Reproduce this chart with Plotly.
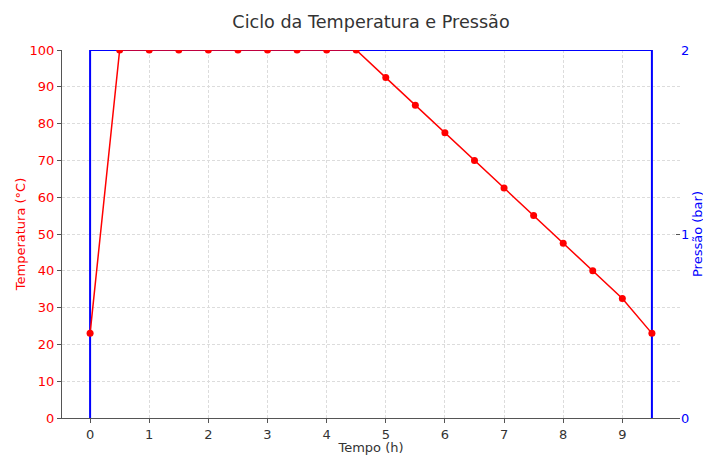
import plotly.graph_objects as go

tempo = [0, 0.5, 1, 1.5, 2, 2.5, 3, 3.5, 4, 4.5, 5, 5.5, 6, 6.5, 7, 7.5, 8, 8.5, 9, 9.5]
temperatura = [23, 100, 100, 100, 100, 100, 100, 100, 100, 100, 92.5, 85, 77.5, 70, 62.5, 55, 47.5, 40, 32.5, 23]
pressao_tempo = [0, 0, 9.5, 9.5]
pressao = [0, 2, 2, 0]
x_ticks = list(range(0, 10))

font = "DejaVu Sans"
W, H = 703, 455
L, R, T, B = 62, 680, 50, 418
fig = go.Figure()
# pressure on the base (right) axis, temperature overlaid on top (left axis)
fig.add_trace(go.Scatter(x=pressao_tempo, y=pressao, mode="lines", yaxis="y",
                         line=dict(color="blue", width=2), showlegend=False))
fig.add_trace(go.Scatter(x=tempo, y=temperatura, mode="lines+markers", yaxis="y2",
                         line=dict(color="red", width=1.5),
                         marker=dict(color="red", size=7), showlegend=False))

grid = dict(showgrid=True, gridcolor="#dcdcdc", griddash="3px,2px", gridwidth=0.8)
fig.update_layout(
    width=W, height=H,
    margin=dict(l=L, r=W - R, t=T, b=H - B, autoexpand=False),
    paper_bgcolor="white", plot_bgcolor="white",
    font=dict(family=font, size=13, color="#333"),
    title=dict(text="Ciclo da Temperatura e Pressão", x=(L + R) / 2 / W, xanchor="center",
               y=1 - 22 / H, yanchor="middle", font=dict(size=17.6, color="#333")),
    xaxis=dict(range=[-0.475, 9.975], tickvals=x_ticks, **grid, showline=True,
               linecolor="#555", linewidth=1.2, automargin=False,
               ticks="outside", ticklen=4, tickcolor="#555", zeroline=False,
               title=dict(text="Tempo (h)", standoff=6, font=dict(size=13, color="#333")),
               tickfont=dict(size=13, color="#333")),
    yaxis2=dict(range=[0, 100], dtick=10, **grid, showline=True, automargin=False,
                overlaying="y", side="left",
                linecolor="#555", linewidth=1.2,
                ticks="outside", ticklen=4, tickcolor="#555", zeroline=False,
                tickfont=dict(size=13, color="red"),
                title=dict(text="Temperatura (°C)", standoff=0, font=dict(size=13, color="red"))),
    yaxis=dict(range=[0, 2], tickvals=[0, 1, 2], side="right",
               showgrid=False, zeroline=False, showline=False, automargin=False,
               ticks="inside", ticklen=4, tickcolor="#555",
               tickfont=dict(size=13, color="blue")),
    annotations=[dict(text="Pressão (bar)", xref="paper", yref="paper",
                      x=(697 - L) / (R - L), y=0.5, textangle=-90, showarrow=False,
                      xanchor="center", yanchor="middle",
                      font=dict(size=13, color="blue", family=font))],
)

fig.write_html("out.html", config={"displayModeBar": False},
               post_script="document.body.style.margin='0';")
